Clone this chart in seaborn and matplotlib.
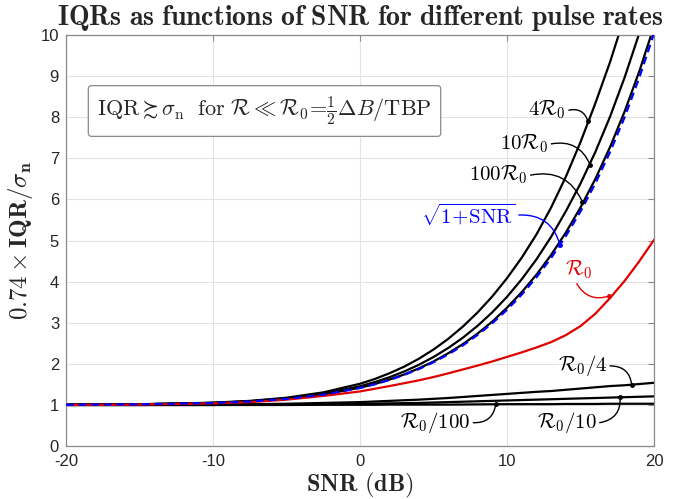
import numpy as np
import pandas as pd
import seaborn as sns
import matplotlib.pyplot as plt

# SNR grid (dB) and curve values
snr_db = [-20, -15, -10, -7.5, -5, -2.5, 0, 1, 2, 3, 4, 5, 6, 7, 8, 9, 10,
          11, 12, 13, 14, 15, 16, 17, 18, 19, 20]

sqrt_1_snr = [1.005, 1.016, 1.049, 1.085, 1.147, 1.250, 1.414, 1.503, 1.608, 1.731, 1.874,
              2.040, 2.231, 2.452, 2.706, 2.990, 3.317, 3.687, 4.107, 4.578, 5.112, 5.712,
              6.388, 7.149, 8.006, 8.970, 10.05]
rate_100r0 = [1.005, 1.016, 1.050, 1.087, 1.150, 1.255, 1.420, 1.509, 1.618, 1.742, 1.891,
              2.059, 2.259, 2.482, 2.739, 3.030, 3.369, 3.746, 4.171, 4.653, 5.196, 5.808,
              6.496, 7.271, 8.143, 9.122, 10.22]
rate_10r0 = [1.006, 1.018, 1.051, 1.091, 1.159, 1.272, 1.456, 1.557, 1.675, 1.815, 1.978,
             2.168, 2.387, 2.639, 2.928, 3.257, 3.633, 4.060, 4.544, 5.093, 5.714, 6.391,
             7.152, 8.009, 8.973, 10.05, 11.27]
rate_4r0 = [1.006, 1.017, 1.056, 1.100, 1.177, 1.307, 1.517, 1.632, 1.772, 1.932, 2.125,
            2.350, 2.610, 2.910, 3.254, 3.643, 4.087, 4.585, 5.150, 5.807, 6.554, 7.400,
            8.335, 9.338, 10.46, 11.73, 13.15]
rate_r0 = [1.000, 1.010, 1.040, 1.070, 1.130, 1.220, 1.330, 1.395, 1.460, 1.530, 1.600,
           1.680, 1.770, 1.865, 1.960, 2.060, 2.170, 2.280, 2.400, 2.530, 2.700, 2.920,
           3.220, 3.600, 4.020, 4.500, 5.020]
rate_r0_4 = [1.000, 1.000, 1.010, 1.020, 1.030, 1.050, 1.070, 1.085, 1.100, 1.115, 1.130,
             1.150, 1.170, 1.195, 1.220, 1.245, 1.270, 1.295, 1.320, 1.340, 1.370, 1.400,
             1.430, 1.460, 1.480, 1.510, 1.540]
rate_r0_10 = [1.000, 1.000, 1.000, 1.010, 1.010, 1.020, 1.030, 1.035, 1.040, 1.045, 1.050,
              1.060, 1.070, 1.080, 1.090, 1.100, 1.110, 1.120, 1.130, 1.140, 1.150, 1.160,
              1.170, 1.180, 1.190, 1.200, 1.210]
rate_r0_100 = [1.000, 1.000, 1.000, 1.000, 1.000, 1.005, 1.005, 1.005, 1.010, 1.010, 1.010,
               1.010, 1.010, 1.012, 1.015, 1.018, 1.020, 1.020, 1.020, 1.020, 1.025, 1.025,
               1.025, 1.030, 1.030, 1.030, 1.030]

# labels: text, arrow start, arrow tip, colour, arc
labels = [
    (r"$4\mathcal{R}_0$", (14.2, 8.17), (15.5, 7.9), "black", -0.45),
    (r"$10\mathcal{R}_0$", (13.0, 7.35), (15.65, 6.84), "black", -0.4),
    (r"$100\mathcal{R}_0$", (11.6, 6.59), (15.12, 5.94), "black", -0.4),
    (r"$\sqrt{1\!+\!\mathrm{SNR}}$", (10.8, 5.62), (13.6, 4.89), "#0000ff", -0.4),
    (r"$\mathcal{R}_0/4$", (17.0, 1.95), (18.48, 1.48), "black", -0.45),
    (r"$\mathcal{R}_0/10$", (16.3, 0.57), (17.69, 1.2), "black", 0.45),
    (r"$\mathcal{R}_0/100$", (7.7, 0.57), (9.23, 1.02), "black", 0.45),
]

sns.set_style("whitegrid")
plt.rcParams["mathtext.fontset"] = "cm"
plt.rcParams["font.family"] = ["Liberation Sans", "DejaVu Sans"]
plt.rcParams["axes.unicode_minus"] = False

fig, ax = plt.subplots(figsize=(6.9, 4.99), dpi=100)
fig.subplots_adjust(left=0.0957, right=0.948, bottom=0.106, top=0.930)

lw = 1.6
for vals in [rate_4r0, rate_10r0, rate_100r0, rate_r0_4, rate_r0_10, rate_r0_100]:
    sns.lineplot(x=snr_db, y=vals, ax=ax, color="black", lw=lw)
sns.lineplot(x=snr_db, y=rate_r0, ax=ax, color="#e00000", lw=lw)
sns.lineplot(x=snr_db, y=sqrt_1_snr, ax=ax, color="#0000ff", lw=lw,
             linestyle=(0, (3.5, 2.2)), zorder=5)

ax.set_xlim(-20, 20)
ax.set_ylim(0, 10)
ax.set_xticks(range(-20, 21, 10))
ax.set_yticks(range(0, 11))
ax.grid(True, color="#e3e3e3", lw=0.8)
for s in ax.spines.values():
    s.set_color("#8a8a8a")
    s.set_linewidth(0.9)
ax.tick_params(direction="in", top=True, right=True, length=4, width=0.8,
               color="#8a8a8a", labelcolor="#262626", labelsize=12)
ax.tick_params(axis="x", pad=6)
ax.tick_params(axis="y", pad=5)

ax.set_title(r"$\mathbf{IQRs\ as\ functions\ of\ SNR\ for\ different\ pulse\ rates}$",
             fontsize=20, pad=7)
ax.set_xlabel(r"$\mathbf{SNR\ (dB)}$", fontsize=17.5, labelpad=1)
ax.set_ylabel(r"$\mathbf{0.74\times IQR/}\mathbf{\sigma}_\mathbf{n}$", fontsize=18, labelpad=4)

for text, start, tip, col, rad in labels:
    ax.text(start[0] - 0.2, start[1], text, color=col, fontsize=15, ha="right", va="center")
    ax.annotate("", xy=tip, xytext=start,
                arrowprops=dict(arrowstyle="-", color=col, lw=1.0,
                                connectionstyle=f"arc3,rad={rad}", shrinkA=0, shrinkB=0))
    ax.plot(*tip, "o", color=col, ms=2.5, zorder=6)

# red R0 label sits above its arrow
ax.text(14.9, 4.3, r"$\mathcal{R}_0$", color="#e00000", fontsize=15, ha="center", va="center")
ax.annotate("", xy=(16.94, 3.65), xytext=(14.74, 3.95),
            arrowprops=dict(arrowstyle="-", color="#e00000", lw=1.0,
                            connectionstyle="arc3,rad=0.4", shrinkA=0, shrinkB=0))
ax.plot(16.94, 3.65, "o", color="#e00000", ms=2.5, zorder=6)

ax.text(-6.5, 8.15,
        r"$\mathrm{IQR} \succsim \sigma_\mathrm{n}\ \ \mathrm{for}\ \mathcal{R} \ll \mathcal{R}_0\!=\!\frac{1}{2}\Delta B/\mathrm{TBP}$",
        fontsize=16, ha="center", va="center",
        bbox=dict(boxstyle="round,pad=0.4,rounding_size=0.15", fc="white", ec="#8a8a8a", lw=0.9))

fig.savefig("out.png", dpi=100)
